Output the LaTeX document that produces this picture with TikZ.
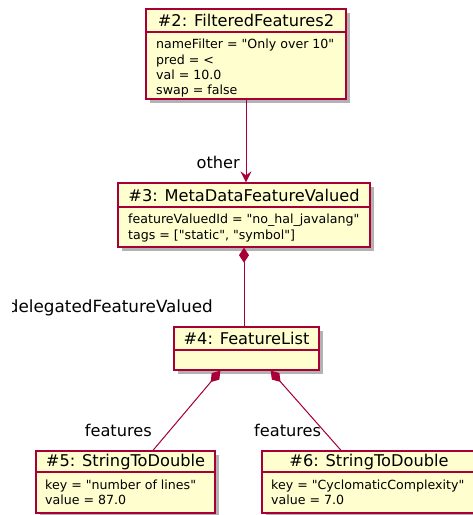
\documentclass[tikz,border=0pt]{standalone}
\usepackage{fontspec}
\setmainfont{DejaVu Sans}[Ligatures=TeXOff]
\usetikzlibrary{arrows.meta,shadows,fit}
\definecolor{umlborder}{HTML}{A80036}
\definecolor{umlfill}{HTML}{FEFECE}
\tikzset{
  classbox/.style={draw=umlborder, fill=umlfill, line width=1.3pt, inner sep=0pt,
    drop shadow={shadow xshift=4pt, shadow yshift=-4pt, fill=black!55, opacity=0.55}},
  sepline/.style={draw=umlborder, line width=1.3pt},
  titletext/.style={font=\fontsize{16.2}{19}\selectfont, anchor=base, inner sep=0pt},
  attrtext/.style={font=\fontsize{12.6}{15.3}\selectfont, align=left, anchor=north west, inner sep=0pt},
  rolelabel/.style={font=\fontsize{16.2}{19}\selectfont, inner sep=0pt},
  link/.style={draw=umlborder, line width=1pt},
  assoc/.style={link, -{Stealth[length=11pt,width=11pt,inset=4pt]}, fill=umlborder},
  compose/.style={link, {Diamond[length=15pt,width=10pt]}-, fill=umlborder},
}
\begin{document}
\begin{tikzpicture}[x=1pt,y=-1pt]
\useasboundingbox (0,0) rectangle (473,515);

% #2 FilteredFeatures2
\node[classbox, fit={(146,9)(346,99)}] (c2) {};
\draw[sepline] (146,32) -- (346,32);
\node[titletext] (c2t) at (246,26) {\#2: FilteredFeatures2};
\node[attrtext] (c2a) at (156,39) {nameFilter = "Only over 10"\\pred = <\\val = 10.0\\swap = false};

% #3 MetaDataFeatureValued
\node[classbox, fit={(118,183)(370,247)}] (c3) {};
\draw[sepline] (118,207) -- (370,207);
\node[titletext] (c3t) at (244,201) {\#3: MetaDataFeatureValued};
\node[attrtext] (c3a) at (128,214) {featureValuedId = "no\_hal\_javalang"\\tags = ["static", "symbol"]};

% #4 FeatureList
\node[classbox, fit={(174,327)(319,370)}] (c4) {};
\draw[sepline] (174,350) -- (319,350);
\node[titletext] (c4t) at (246.5,344) {\#4: FeatureList};

% #5 StringToDouble
\node[classbox, fit={(36,451)(215,513)}] (c5) {};
\draw[sepline] (36,472) -- (215,472);
\node[titletext] (c5t) at (125.5,466) {\#5: StringToDouble};
\node[attrtext] (c5a) at (45,479.5) {key = "number of lines"\\value = 87.0};

% #6 StringToDouble
\node[classbox, fit={(262,451)(476,513)}] (c6) {};
\draw[sepline] (262,472) -- (476,472);
\node[titletext] (c6t) at (369,466) {\#6: StringToDouble};
\node[attrtext] (c6a) at (271,479.5) {key = "CyclomaticComplexity"\\value = 7.0};

% connectors
\draw[assoc] (c2.south) -- (c2.south |- c3.north);
\draw[compose] (c3.south) -- (c3.south |- c4.north);
\draw[compose] ([xshift=47pt]c4.south west) -- ([xshift=27.5pt]c5.north);
\draw[compose] ([xshift=-49pt]c4.south east) -- ([xshift=-28pt]c6.north);

% role labels
\node[rolelabel, anchor=base east] (r1) at (240,168) {other};
\begin{scope}
  \clip (12.5,290) rectangle (220,320);
  \node[rolelabel, font=\fontsize{16.8}{19}\selectfont, anchor=base east] (r2) at (213,312) {delegatedFeatureValued};
\end{scope}
\node[rolelabel, anchor=base east] (r3) at (152,436) {features};
\node[rolelabel, anchor=base west] (r4) at (254,436) {features};
\end{tikzpicture}
\end{document}
